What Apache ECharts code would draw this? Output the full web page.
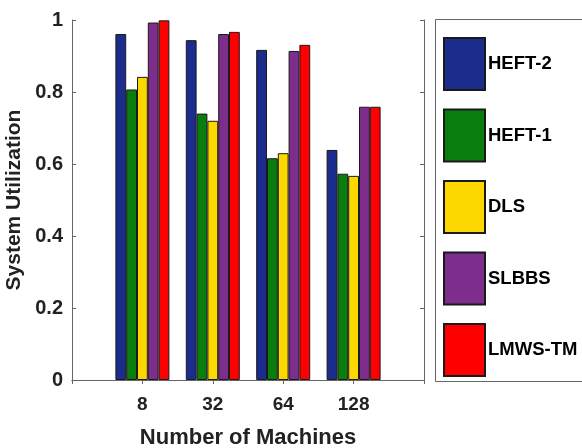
<!DOCTYPE html>
<html>
<head>
<meta charset="utf-8">
<script src="https://cdn.jsdelivr.net/npm/echarts@6/dist/echarts.min.js"></script>
<style>
  html, body { margin: 0; padding: 0; background: #fff; }
  #chart { width: 582px; height: 448px; }
</style>
</head>
<body>
<div id="chart"></div>
<script>
const categories = ['8', '32', '64', '128']
const seriesNames = ['HEFT-2', 'HEFT-1', 'DLS', 'SLBBS', 'LMWS-TM']
const heft2 = [0.961, 0.944, 0.917, 0.639]
const heft1 = [0.807, 0.740, 0.616, 0.573]
const dls = [0.842, 0.720, 0.630, 0.567]
const slbbs = [0.993, 0.961, 0.914, 0.759]
const lmwsTm = [0.999, 0.967, 0.931, 0.759]
const yMin = 0, yMax = 1, yStep = 0.2

const palette = ['#1b2c8c', '#0a7d0f', '#fdd700', '#7d2d8c', '#ff0000']
const font = '"Liberation Sans", Arial, sans-serif'
const axisColor = '#666'

// pad one empty slot each side so the box spans 0..5 like the original
const axisCats = ['', ...categories, '']
const pad = (arr) => ['-', ...arr, '-']

const chart = echarts.init(document.getElementById('chart'))
const values = [heft2, heft1, dls, slbbs, lmwsTm]

chart.setOption({
  animation: false,
  textStyle: { fontFamily: font },
  grid: { left: 72, right: 158, top: 20, bottom: 68, containLabel: false, outerBoundsMode: 'none' },
  graphic: [{
    type: 'rect', shape: { x: 435.5, y: 19.5, width: 200, height: 362 },
    style: { fill: 'none', stroke: axisColor, lineWidth: 1 },
  }],
  legend: {
    orient: 'vertical', left: 443, top: 37, padding: 0,
    itemWidth: 41, itemHeight: 52, itemGap: 17.5, icon: 'rect',
    textStyle: { fontFamily: font, fontWeight: 'bold', fontSize: 18.5, color: '#000', padding: [0, 0, 0, -2] },
    data: seriesNames,
  },
  xAxis: [{
    type: 'category', data: axisCats, boundaryGap: false,
    axisLine: { lineStyle: { color: axisColor } },
    axisTick: { show: false },
    axisLabel: { interval: 0, margin: 15, fontFamily: font, fontWeight: 'bold', fontSize: 19, color: '#222' },
    name: 'Number of Machines', nameLocation: 'middle', nameGap: 47,
    nameTextStyle: { fontFamily: font, fontWeight: 'bold', fontSize: 22, color: '#222' },
  }, {
    type: 'category', data: axisCats, boundaryGap: false, position: 'top',
    axisLine: { lineStyle: { color: axisColor } },
    axisTick: { inside: true, length: 4, interval: 0, lineStyle: { color: axisColor } },
    axisLabel: { show: false },
  }],
  yAxis: [{
    type: 'value', min: yMin, max: yMax, interval: yStep,
    axisLine: { show: true, lineStyle: { color: axisColor } },
    axisTick: { show: true, inside: true, length: 4, lineStyle: { color: axisColor } },
    splitLine: { show: false },
    axisLabel: { margin: 9, fontFamily: font, fontWeight: 'bold', fontSize: 20, color: '#222' },
    name: 'System Utilization', nameLocation: 'middle', nameGap: 37,
    nameTextStyle: { fontFamily: font, fontWeight: 'bold', fontSize: 21, color: '#222' },
  }, {
    type: 'value', min: yMin, max: yMax, interval: yStep, position: 'right',
    axisLine: { show: true, lineStyle: { color: axisColor } },
    axisTick: { show: true, inside: true, length: 4, lineStyle: { color: axisColor } },
    splitLine: { show: false },
    axisLabel: { show: false },
  }],
  series: seriesNames.map((name, i) => ({
    name, type: 'bar', data: pad(values[i]),
    barWidth: 10.8, barGap: '0%',
    itemStyle: { color: palette[i], borderColor: '#1a1a1a', borderWidth: 1 },
  })),
})
</script>
</body>
</html>
